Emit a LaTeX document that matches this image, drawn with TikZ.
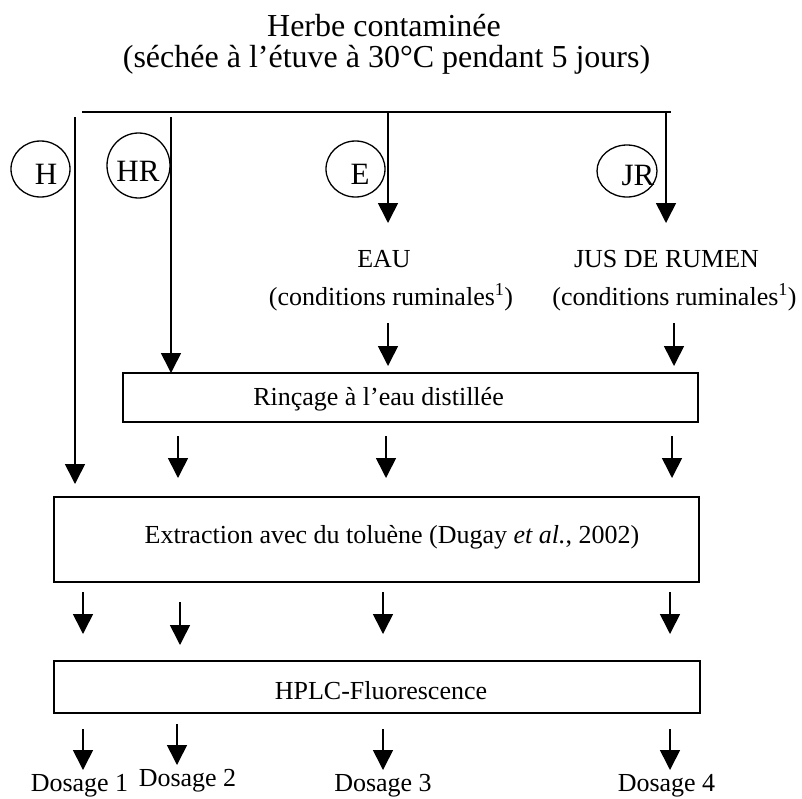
\documentclass[tikz,border=0pt]{standalone}
\usepackage{fontspec}
\setmainfont{Liberation Serif}
\usetikzlibrary{arrows.meta,shapes.geometric}
\newcommand\myBody{\fontsize{26}{30}\selectfont}
\newcommand\myTitle{\fontsize{32}{36}\selectfont}
\newcommand\myCirc{\fontsize{31}{35}\selectfont}
\begin{document}
\begin{tikzpicture}[x=1pt,y=-1pt,
  flow/.style={-{Triangle[width=20pt,length=20pt]}, line width=1.6pt},
  plain/.style={line width=1.6pt},
  box/.style={draw, line width=1.6pt, inner sep=0},
  txt/.style={anchor=base, inner sep=0, font=\myBody},
  ttl/.style={anchor=base, inner sep=0, font=\myTitle},
  ring/.style={draw, ellipse, line width=1.3pt, inner sep=0},
  rlab/.style={anchor=base, inner sep=0, font=\myCirc},
  ]
\useasboundingbox (0,0) rectangle (802,798);

% title
\node[ttl] (t1) at (384,36) {Herbe contaminée};
\node[ttl] (t2) at (386.5,67) {(séchée à l’étuve à 30°C pendant 5 jours)};

% top distribution line
\coordinate (tl) at (82,112);
\coordinate (tr) at (671,112);
\draw[plain] (tl) -- (tr);

% circles
\node[ring, minimum width=59, minimum height=56] (cH) at (40.5,169) {};
\node[rlab] (lH) at (46,184) {H};
\node[ring, minimum width=63, minimum height=65] (cHR) at (138.5,165.5) {};
\node[rlab] (lHR) at (138,181) {HR};
\node[ring, minimum width=59, minimum height=56] (cE) at (355.5,169) {};
\node[rlab] (lE) at (360,184) {E};
\node[ring, minimum width=60, minimum height=52] (cJR) at (627,171) {};
\node[rlab] (lJR) at (638,185) {JR};

% treatment texts
\node[txt] (eau) at (384,267) {EAU};
\node[txt] (eauc) at (391,305) {(conditions ruminales\textsuperscript{1})};
\node[txt] (jus) at (666.5,267) {JUS DE RUMEN};
\node[txt] (jusc) at (674.5,305) {(conditions ruminales\textsuperscript{1})};

% boxes
\node[box, minimum width=575, minimum height=49] (rinc) at (410.5,397.5) {};
\node[txt] (rinct) at (378.5,405) {Rinçage à l’eau distillée};
\node[box, minimum width=645, minimum height=85] (extr) at (376.5,539.5) {};
\node[txt] (extrt) at (392,543) {Extraction avec du toluène (Dugay \textit{et al.}, 2002)};
\node[box, minimum width=646, minimum height=52] (hplc) at (377,687) {};
\node[txt] (hplct) at (381,699) {HPLC-Fluorescence};

% results
\node[txt] (d1) at (79.5,791) {Dosage 1};
\node[txt] (d2) at (187.5,786) {Dosage 2};
\node[txt] (d3) at (383,791) {Dosage 3};
\node[txt] (d4) at (666.5,791) {Dosage 4};

% arrow end points
\coordinate (e0) at (388,112);  \coordinate (e1) at (388,223);
\coordinate (j0) at (666,112);  \coordinate (j1) at (666,223);
\coordinate (h0) at (75,117);   \coordinate (h1) at (75,484);
\coordinate (hr0) at (171,117); \coordinate (hr1) at (171,373);
\coordinate (e2) at (388,323);  \coordinate (e3) at (388,366);
\coordinate (j2) at (674,323);  \coordinate (j3) at (674,366);
\coordinate (ra0) at (178,436); \coordinate (ra1) at (178,478);
\coordinate (rb0) at (386,436); \coordinate (rb1) at (386,478);
\coordinate (rc0) at (672,436); \coordinate (rc1) at (672,478);
\coordinate (xa0) at (83,592);  \coordinate (xa1) at (83,634);
\coordinate (xb0) at (180,602); \coordinate (xb1) at (180,645);
\coordinate (xc0) at (383,592); \coordinate (xc1) at (383,634);
\coordinate (xd0) at (670,592); \coordinate (xd1) at (670,634);
\coordinate (pa0) at (83,729);  \coordinate (pa1) at (83,770);
\coordinate (pb0) at (177,724); \coordinate (pb1) at (177,765);
\coordinate (pc0) at (383,729); \coordinate (pc1) at (383,770);
\coordinate (pd0) at (670,729); \coordinate (pd1) at (670,770);

\foreach \a/\b in {e0/e1,j0/j1,h0/h1,hr0/hr1,e2/e3,j2/j3,ra0/ra1,rb0/rb1,rc0/rc1,
  xa0/xa1,xb0/xb1,xc0/xc1,xd0/xd1,pa0/pa1,pb0/pb1,pc0/pc1,pd0/pd1}
  \draw[flow] (\a) -- (\b);
\end{tikzpicture}
\end{document}
